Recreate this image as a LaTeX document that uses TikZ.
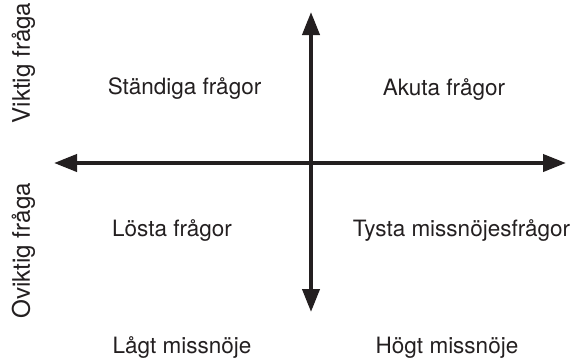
\documentclass[tikz,border=0pt]{standalone}
\usepackage{fontspec}
\setmainfont{TeX Gyre Heros}
\usetikzlibrary{arrows.meta}
\definecolor{ink}{HTML}{231F20}
\tikzset{
  lbl/.style={font=\fontsize{22.5}{26}\selectfont, text=ink, inner sep=0pt, anchor=base},
  sidelbl/.style={lbl, font=\fontsize{24.2}{28}\selectfont, rotate=90},
  axis/.style={draw=ink, line width=4pt, {Triangle[length=23pt,width=17pt]}-{Triangle[length=23pt,width=17pt]}}
}
\begin{document}
\begin{tikzpicture}[x=1pt,y=-1pt]
\useasboundingbox (0,0) rectangle (571,357);
\coordinate (l) at (54,163);
\coordinate (r) at (566,163);
\coordinate (t) at (311,12);
\coordinate (b) at (311,312);
\draw[axis] (l) -- (r);
\draw[axis] (t) -- (b);
\node[lbl] (st) at (184.5,94) {Ständiga frågor};
\node[lbl] (ak) at (444,95) {Akuta frågor};
\node[lbl] (lo) at (172,236) {Lösta frågor};
\node[lbl] (ty) at (461.5,236) {Tysta missnöjesfrågor};
\node[lbl] (la) at (182,353) {Lågt missnöje};
\node[lbl] (ho) at (447,353) {Högt missnöje};
\node[sidelbl] (vi) at (30,63) {Viktig fråga};
\node[sidelbl] (ov) at (30,251) {Oviktig fråga};
\end{tikzpicture}
\end{document}
